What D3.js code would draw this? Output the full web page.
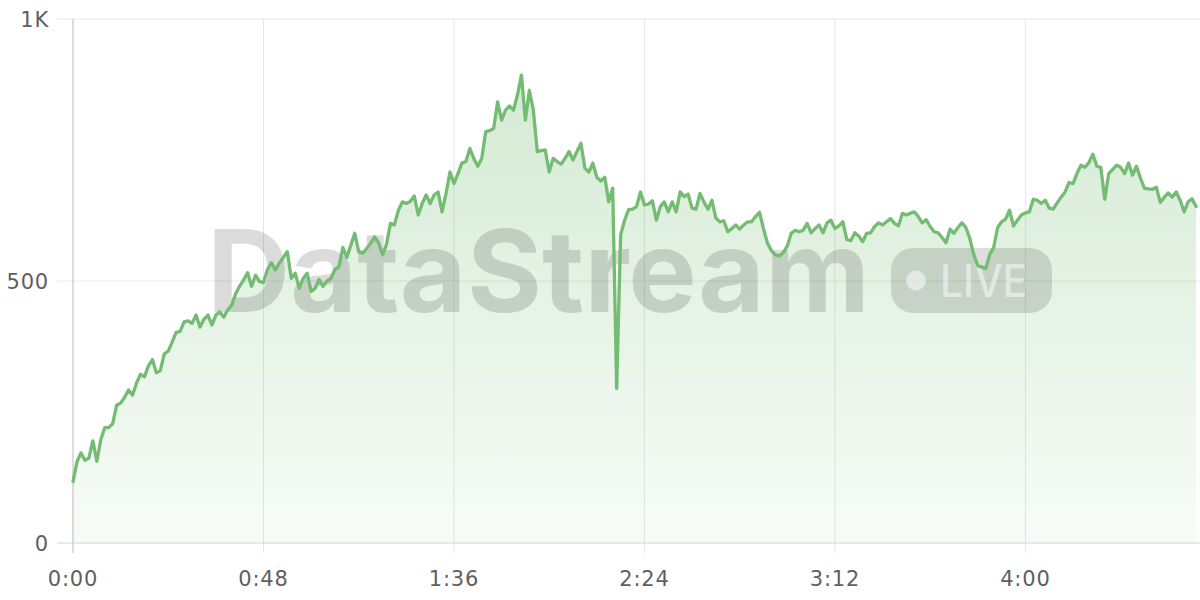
<!DOCTYPE html>
<html>
<head>
<meta charset="utf-8">
<script src="https://cdn.jsdelivr.net/npm/d3@7/dist/d3.min.js"></script>
<style>
  html, body { margin: 0; padding: 0; background: #ffffff; }
  svg { display: block; }
</style>
</head>
<body>
<svg id="chart" width="1200" height="600"></svg>
<script>
// ---- data (one sample per second) ----
const valuesA = [117,155,172,158,162,195,156,197,220,220,228,263,267,278,292,282,305,322,317,338,350,325,329,361,366,384,402,404,422];
const valuesB = [424,419,435,412,427,435,416,435,441,431,445,454,476,490,502,516,490,511,499,497,522,535,521,534,545,556,505,515];
const valuesC = [486,505,515,480,486,503,490,500,505,522,527,564,545,568,591,556,553,562,572,584,573,550,570,610,607,635,651,648];
const valuesD = [652,662,626,648,664,648,664,670,632,667,708,686,705,725,728,753,734,719,734,785,787,791,842,807,826,834,826];
const valuesE = [855,893,807,864,826,747,749,750,708,734,728,723,734,747,731,747,763,715,708,725,698,691,698,651,677,295,588,616,636];
const valuesF = [637,642,670,645,647,653,616,642,651,632,651,632,670,661,666,639,637,667,651,637,654,620,613,615,594,600,607];
const valuesG = [599,607,613,613,623,631,600,572,558,550,548,554,567,591,597,594,597,610,592,600,607,592,611,616,600,605,613];
const valuesH = [579,577,592,586,575,591,592,604,611,607,613,619,610,605,629,626,629,632,623,611,617,604,594,592,583,573,599,591];
const valuesI = [602,611,602,581,550,529,527,524,550,564,602,613,618,635,605,616,626,630,632,656,654,648,654,639,637,649,660,670];
const valuesJ = [688,686,705,721,717,726,742,719,717,656,705,713,721,717,705,725,702,719,696,677,676,675,679,650,660,668,660,670,654,632,651,657,642];

const xTickSeconds = [0, 48, 96, 144, 192, 240];
const xTickLabels = ["0:00", "0:48", "1:36", "2:24", "3:12", "4:00"];
const yTickValues = [0, 500, 1000];
const yTickLabels = ["0", "500", "1K"];
const xDomain = [0, 284];
const yDomain = [0, 1000];

(function () {
const values = [].concat(valuesA, valuesB, valuesC, valuesD, valuesE, valuesF, valuesG, valuesH, valuesI, valuesJ);
const data = values.map((v, i) => ({ t: i, v: v }));

// ---- layout ----
const svg = d3.select("#chart");
const plotLeft = 73, plotRight = 1200, plotTop = 19, plotBottom = 543;
const x = d3.scaleLinear().domain(xDomain).range([plotLeft, plotRight]);
const y = d3.scaleLinear().domain(yDomain).range([plotBottom, plotTop]);

const lineColor = "#74bc73";

// gradient
const defs = svg.append("defs");
const grad = defs.append("linearGradient")
  .attr("id", "areaGrad")
  .attr("gradientUnits", "userSpaceOnUse")
  .attr("x1", 0).attr("x2", 0)
  .attr("y1", plotTop).attr("y2", plotBottom);
grad.append("stop").attr("offset", "0%").attr("stop-color", lineColor).attr("stop-opacity", 0.34);
grad.append("stop").attr("offset", "100%").attr("stop-color", lineColor).attr("stop-opacity", 0.05);

// vertical grid lines
svg.append("g").selectAll("line")
  .data(xTickSeconds.slice(1))
  .join("line")
  .attr("x1", d => x(d)).attr("x2", d => x(d))
  .attr("y1", plotTop).attr("y2", plotBottom + 10)
  .attr("stroke", "#e6e6e6").attr("stroke-width", 1);

// horizontal grid lines
svg.append("g").selectAll("line")
  .data(yTickValues)
  .join("line")
  .attr("x1", plotLeft - 16).attr("x2", plotRight)
  .attr("y1", d => y(d)).attr("y2", d => y(d))
  .attr("stroke", d => d === 0 ? "#d4d4d4" : "#e8e8e8").attr("stroke-width", 1);

// y axis line
svg.append("line")
  .attr("x1", plotLeft).attr("x2", plotLeft)
  .attr("y1", plotTop).attr("y2", plotBottom + 10)
  .attr("stroke", "#d0d0d0").attr("stroke-width", 1.5);

// area
const area = d3.area()
  .x(d => x(d.t))
  .y0(y(0))
  .y1(d => y(d.v))
  .curve(d3.curveLinear);
svg.append("path").datum(data)
  .attr("d", area)
  .attr("fill", "url(#areaGrad)");

// watermark
const wm = svg.append("g").attr("class", "watermark");
wm.append("text")
  .attr("x", 207).attr("y", 312)
  .attr("font-family", "Inter, 'Open Sans', sans-serif")
  .attr("font-weight", 700)
  .attr("font-size", 114)
  .attr("textLength", 663)
  .attr("lengthAdjust", "spacingAndGlyphs")
  .attr("fill", "rgba(0,0,0,0.14)")
  .text("DataStream");
wm.append("rect")
  .attr("x", 891).attr("y", 248).attr("width", 161).attr("height", 65)
  .attr("rx", 22).attr("ry", 22)
  .attr("fill", "rgba(0,0,0,0.13)");
wm.append("circle")
  .attr("cx", 916).attr("cy", 280.5).attr("r", 10)
  .attr("fill", "rgba(255,255,255,0.5)");
wm.append("text")
  .attr("x", 940).attr("y", 297)
  .attr("font-family", "Inter, 'Open Sans', sans-serif")
  .attr("font-weight", 500)
  .attr("font-size", 45)
  .attr("textLength", 87)
  .attr("lengthAdjust", "spacingAndGlyphs")
  .attr("fill", "rgba(255,255,255,0.5)")
  .text("LIVE");

// line
const line = d3.line()
  .x(d => x(d.t))
  .y(d => y(d.v))
  .curve(d3.curveLinear);
svg.append("path").datum(data)
  .attr("d", line)
  .attr("fill", "none")
  .attr("stroke", lineColor)
  .attr("stroke-width", 3.3)
  .attr("stroke-linejoin", "round")
  .attr("stroke-linecap", "round");

// y labels
svg.append("g").selectAll("text")
  .data(yTickValues)
  .join("text")
  .attr("x", 49)
  .attr("y", d => y(d))
  .attr("dy", "0.36em")
  .attr("text-anchor", "end")
  .attr("font-family", "'DejaVu Sans', sans-serif")
  .attr("font-size", 21)
  .attr("letter-spacing", 0.8)
  .attr("fill", "#5f5f5f")
  .text((d, i) => yTickLabels[i]);

// x labels
svg.append("g").selectAll("text")
  .data(xTickSeconds)
  .join("text")
  .attr("x", d => x(d))
  .attr("y", 586)
  .attr("text-anchor", "middle")
  .attr("font-family", "'DejaVu Sans', sans-serif")
  .attr("font-size", 21)
  .attr("letter-spacing", 0.8)
  .attr("fill", "#5f5f5f")
  .text((d, i) => xTickLabels[i]);
})();
</script>
</body>
</html>
